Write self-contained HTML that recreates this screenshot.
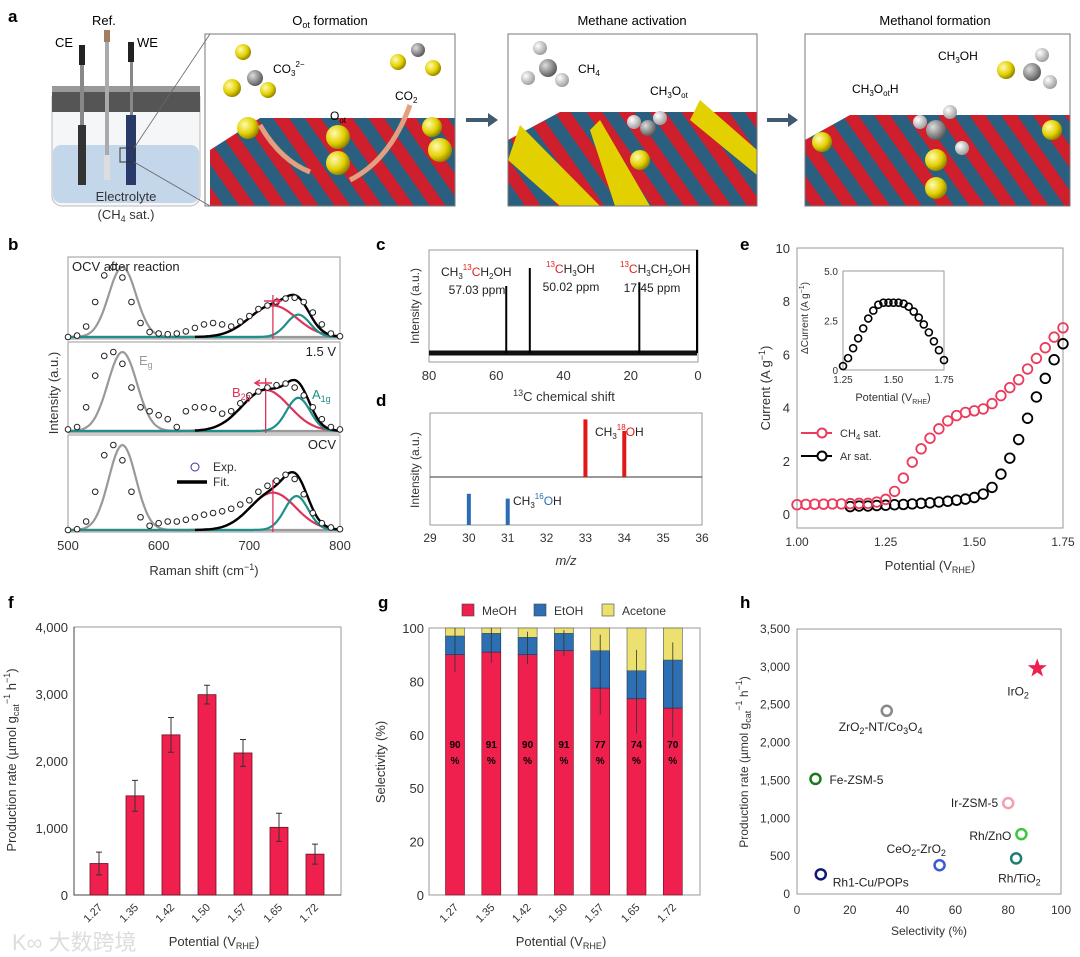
<!DOCTYPE html>
<html><head><meta charset="utf-8">
<style>
html,body{margin:0;padding:0;background:#fff;}
svg{display:block;font-family:"Liberation Sans","Noto Sans CJK SC",sans-serif;}
</style></head>
<body>
<svg id="fig" width="1080" height="957" viewBox="0 0 1080 957" xmlns="http://www.w3.org/2000/svg">
<defs>
<pattern id="stripes" width="26" height="26" patternUnits="userSpaceOnUse" patternTransform="rotate(-35)">
<rect width="26" height="26" fill="#2a5f80"/><rect width="13" height="26" fill="#cf1e2c"/>
</pattern>
<radialGradient id="yb" cx="0.35" cy="0.35" r="0.7"><stop offset="0" stop-color="#fffbb0"/><stop offset="0.6" stop-color="#e3d000"/><stop offset="1" stop-color="#8a7d00"/></radialGradient>
<radialGradient id="gb" cx="0.35" cy="0.35" r="0.7"><stop offset="0" stop-color="#ddd"/><stop offset="1" stop-color="#555"/></radialGradient>
<radialGradient id="wb" cx="0.35" cy="0.35" r="0.7"><stop offset="0" stop-color="#fff"/><stop offset="1" stop-color="#999"/></radialGradient>
<clipPath id="c1"><rect x="210" y="34" width="245" height="172"/></clipPath>
<clipPath id="c2"><rect x="508" y="34" width="249" height="172"/></clipPath>
<clipPath id="c3"><rect x="805" y="34" width="265" height="172"/></clipPath>
</defs>

<!-- Panel a -->
<g>
<text x="8" y="22" font-size="17" font-weight="bold">a</text>
<g>
<rect x="52" y="88" width="148" height="118" rx="10" fill="#f4f6f8" stroke="#bbb"/>
<rect x="53" y="145" width="146" height="58" rx="8" fill="#c4d6ea"/>
<rect x="52" y="86" width="148" height="26" fill="#555"/>
<rect x="52" y="86" width="148" height="6" fill="#999"/>
<rect x="79" y="45" width="6" height="20" fill="#222"/><rect x="80" y="65" width="4" height="120" fill="#888"/><rect x="78" y="125" width="8" height="60" fill="#333"/>
<rect x="104" y="30" width="6" height="12" fill="#a08060"/><rect x="105" y="42" width="4" height="138" fill="#aaa"/><rect x="104" y="155" width="6" height="25" fill="#ddd"/>
<rect x="128" y="42" width="6" height="20" fill="#222"/><rect x="130" y="62" width="3" height="55" fill="#888"/><rect x="126" y="115" width="10" height="70" fill="#283a6a"/>
<rect x="120" y="148" width="14" height="14" fill="none" stroke="#333"/>
<line x1="134" y1="148" x2="210" y2="34" stroke="#666" stroke-width="0.8"/><line x1="134" y1="162" x2="210" y2="206" stroke="#666" stroke-width="0.8"/>
<text x="55" y="47" font-size="13">CE</text>
<text x="92" y="25" font-size="13">Ref.</text>
<text x="137" y="47" font-size="13">WE</text>
<text x="126" y="201" font-size="13" text-anchor="middle" fill="#333">Electrolyte</text>
<text x="126" y="219" font-size="13" text-anchor="middle" fill="#333">(CH<tspan font-size="9" dy="3">4</tspan><tspan dy="-3"> sat.)</tspan></text>
</g>
<g>
<text x="330" y="25" font-size="13" text-anchor="middle">O<tspan font-size="9" dy="3">ot</tspan><tspan dy="-3">  formation</tspan></text>
<g clip-path="url(#c1)"><rect x="210" y="34" width="245" height="172" fill="#fff"/>
<path d="M210 150 L260 118 L455 118 L455 206 L210 206Z" fill="url(#stripes)"/>
<circle cx="248" cy="128" r="11" fill="url(#yb)"/><circle cx="338" cy="137" r="12" fill="url(#yb)"/><circle cx="338" cy="163" r="12" fill="url(#yb)"/><circle cx="432" cy="127" r="10" fill="url(#yb)"/><circle cx="440" cy="150" r="12" fill="url(#yb)"/>
<circle cx="255" cy="78" r="8" fill="url(#gb)"/><circle cx="243" cy="52" r="8" fill="url(#yb)"/><circle cx="232" cy="88" r="9" fill="url(#yb)"/><circle cx="268" cy="90" r="8" fill="url(#yb)"/>
<circle cx="418" cy="50" r="7" fill="url(#gb)"/><circle cx="398" cy="62" r="8" fill="url(#yb)"/><circle cx="433" cy="68" r="8" fill="url(#yb)"/>
<path d="M260 125 Q280 160 310 172" stroke="#e2a080" stroke-width="5" fill="none"/><path d="M350 180 Q390 160 410 105" stroke="#e2a080" stroke-width="5" fill="none"/>
</g>
<rect x="205" y="34" width="250" height="172" fill="none" stroke="#777"/>
<text x="273" y="73" font-size="12">CO<tspan font-size="8" dy="3">3</tspan><tspan font-size="8" dy="-9">2−</tspan></text>
<text x="330" y="120" font-size="12">O<tspan font-size="8" dy="3">ot</tspan></text>
<text x="395" y="100" font-size="12">CO<tspan font-size="8" dy="3">2</tspan></text>
</g>
<path d="M466 120 L490 120" stroke="#405a70" stroke-width="4"/><path d="M488 113 L498 120 L488 127Z" fill="#405a70"/>
<g>
<text x="632" y="25" font-size="13" text-anchor="middle">Methane activation</text>
<g clip-path="url(#c2)"><rect x="508" y="34" width="249" height="172" fill="#fff"/>
<path d="M508 140 L560 112 L757 112 L757 206 L508 206Z" fill="url(#stripes)"/>
<path d="M520 125 L600 206 L560 206 L508 160Z" fill="#e3d000"/><path d="M600 120 L650 206 L615 206 L590 130Z" fill="#e3d000"/><path d="M700 100 L757 150 L757 175 L690 120Z" fill="#e3d000"/>
<circle cx="548" cy="68" r="9" fill="url(#gb)"/><circle cx="540" cy="48" r="7" fill="url(#wb)"/><circle cx="528" cy="78" r="7" fill="url(#wb)"/><circle cx="562" cy="80" r="7" fill="url(#wb)"/>
<circle cx="648" cy="128" r="8" fill="url(#gb)"/><circle cx="634" cy="122" r="7" fill="url(#wb)"/><circle cx="660" cy="118" r="7" fill="url(#wb)"/><circle cx="640" cy="160" r="10" fill="url(#yb)"/>
</g>
<rect x="508" y="34" width="249" height="172" fill="none" stroke="#777"/>
<text x="578" y="73" font-size="12">CH<tspan font-size="8" dy="3">4</tspan></text>
<text x="650" y="95" font-size="12">CH<tspan font-size="8" dy="3">3</tspan><tspan dy="-3">O</tspan><tspan font-size="8" dy="3">ot</tspan></text>
</g>
<path d="M767 120 L790 120" stroke="#405a70" stroke-width="4"/><path d="M788 113 L798 120 L788 127Z" fill="#405a70"/>
<g>
<text x="935" y="25" font-size="13" text-anchor="middle">Methanol formation</text>
<g clip-path="url(#c3)"><rect x="805" y="34" width="265" height="172" fill="#fff"/>
<path d="M805 140 L850 115 L1070 115 L1070 206 L805 206Z" fill="url(#stripes)"/>
<circle cx="822" cy="142" r="10" fill="url(#yb)"/><circle cx="936" cy="160" r="11" fill="url(#yb)"/><circle cx="936" cy="188" r="11" fill="url(#yb)"/><circle cx="1052" cy="130" r="10" fill="url(#yb)"/>
<circle cx="936" cy="130" r="10" fill="url(#gb)"/><circle cx="920" cy="122" r="7" fill="url(#wb)"/><circle cx="950" cy="112" r="7" fill="url(#wb)"/><circle cx="962" cy="148" r="7" fill="url(#wb)"/>
<circle cx="1032" cy="72" r="9" fill="url(#gb)"/><circle cx="1006" cy="70" r="9" fill="url(#yb)"/><circle cx="1042" cy="55" r="7" fill="url(#wb)"/><circle cx="1050" cy="82" r="7" fill="url(#wb)"/>
</g>
<rect x="805" y="34" width="265" height="172" fill="none" stroke="#777"/>
<text x="938" y="60" font-size="12">CH<tspan font-size="8" dy="3">3</tspan><tspan dy="-3">OH</tspan></text>
<text x="852" y="93" font-size="12">CH<tspan font-size="8" dy="3">3</tspan><tspan dy="-3">O</tspan><tspan font-size="8" dy="3">ot</tspan><tspan dy="-3">H</tspan></text>
</g>
</g>

<text x="8" y="250" font-size="17" font-weight="bold">b</text>
<text x="376" y="250" font-size="17" font-weight="bold">c</text>
<text x="376" y="406" font-size="17" font-weight="bold">d</text>
<text x="740" y="250" font-size="17" font-weight="bold">e</text>
<text x="8" y="608" font-size="17" font-weight="bold">f</text>
<text x="378" y="608" font-size="17" font-weight="bold">g</text>
<text x="740" y="608" font-size="17" font-weight="bold">h</text>
<g id="charts"></g>
<text x="12" y="950" font-size="22" fill="#ddd">K∞ 大数跨境</text>
</svg>

<script>
const ramanShift = [500,510,520,530,540,550,560,570,580,590,600,610,620,630,640,650,660,670,680,690,700,710,720,730,740,750,760,770,780,790,800];
const ramanTop = [0,0.02,0.15,0.5,0.88,1.0,0.85,0.5,0.2,0.07,0.05,0.04,0.05,0.08,0.13,0.18,0.2,0.18,0.15,0.22,0.3,0.4,0.45,0.5,0.55,0.56,0.5,0.35,0.18,0.05,0.01];
const ramanMid = [0.02,0.05,0.3,0.7,0.95,1.0,0.85,0.55,0.3,0.25,0.2,0.15,0.05,0.25,0.3,0.3,0.28,0.22,0.25,0.35,0.45,0.5,0.55,0.58,0.6,0.55,0.45,0.3,0.15,0.05,0.02];
const ramanBot = [0,0.01,0.1,0.45,0.88,1.0,0.82,0.45,0.15,0.05,0.08,0.1,0.1,0.12,0.15,0.18,0.2,0.22,0.25,0.3,0.35,0.45,0.52,0.58,0.65,0.6,0.42,0.2,0.08,0.03,0.01];
const egCenter = [560,560,560], egAmp=[1.0,1.0,1.0], egWidth=[15,16,15];
const b2gCenter = [726,718,726], b2gAmp=[0.45,0.52,0.44], b2gWidth=[26,26,25];
const a1gCenter = [754,754,752], a1gAmp=[0.32,0.42,0.4], a1gWidth=[13,13,13];
const ramanLabels = ['OCV after reaction','1.5 V','OCV'];
const ramanTicks = [500,600,700,800];
const nmrShift = [57.03,50.02,17.45];
const nmrHeight = [0.52,0.66,0.55];
const nmrTicks = [80,60,40,20,0];
const msMz18 = [33,34], msInt18 = [0.9,0.72];
const msMz16 = [30,31], msInt16 = [0.65,0.55];
const msTicks = [29,30,31,32,33,34,35,36];
const potE = [1.0,1.025,1.05,1.075,1.1,1.125,1.15,1.175,1.2,1.225,1.25,1.275,1.3,1.325,1.35,1.375,1.4,1.425,1.45,1.475,1.5,1.525,1.55,1.575,1.6,1.625,1.65,1.675,1.7,1.725,1.75];
const currCH4 = [0.35,0.36,0.37,0.37,0.38,0.38,0.39,0.4,0.4,0.45,0.55,0.85,1.35,1.95,2.45,2.85,3.2,3.5,3.7,3.82,3.88,3.95,4.15,4.45,4.75,5.05,5.45,5.85,6.25,6.65,7.0];
const currAr = [null,null,null,null,null,null,0.28,0.3,0.3,0.32,0.33,0.35,0.36,0.38,0.4,0.42,0.45,0.48,0.52,0.56,0.62,0.75,1.0,1.5,2.1,2.8,3.6,4.4,5.1,5.8,6.4];
const eTicksX = [1.0,1.25,1.5,1.75], eTicksY=[0,2,4,6,8,10];
const potInset = [1.25,1.275,1.3,1.325,1.35,1.375,1.4,1.425,1.45,1.475,1.5,1.525,1.55,1.575,1.6,1.625,1.65,1.675,1.7,1.725,1.75];
const deltaCurr = [0.2,0.6,1.1,1.6,2.1,2.6,3.0,3.3,3.4,3.4,3.4,3.4,3.35,3.2,2.95,2.65,2.3,1.9,1.45,1.0,0.5];
const potCats = ['1.27','1.35','1.42','1.50','1.57','1.65','1.72'];
const rateVals = [470,1480,2390,2990,2120,1010,610];
const rateErr = [170,230,260,140,200,210,150];
const fTicks = [0,1000,2000,3000,4000];
const fTickLabels = ['0','1,000','2,000','3,000','4,000'];
const selMeOH = [90,91,90,91.5,77.5,73.5,70];
const selEtOH = [7,7,6.5,6.5,14,10.5,18];
const selAcetone = [3,2,3.5,2,8.5,16,12];
const errMeOH = [6.5,4,3.5,2,10,13,11];
const pctLabels = ['90','91','90','91','77','74','70'];
const gTicks = [0,20,40,60,80,100];
const gTickLabels = ['0','20','50','60','80','100'];
const catNames = ['IrO2','ZrO2-NT/Co3O4','Fe-ZSM-5','Ir-ZSM-5','Rh/ZnO','Rh/TiO2','CeO2-ZrO2','Rh1-Cu/POPs'];
const catSel = [91,34,7,80,85,83,54,9];
const catRate = [2980,2420,1520,1200,790,470,380,260];
const hTicksX=[0,20,40,60,80,100];
const hTicksY=[0,500,1000,1500,2000,2500,3000,3500];
const hTickLabelsY=['0','500','1,000','1,500','2,000','2,500','3,000','3,500'];

const NS='http://www.w3.org/2000/svg';
const root=document.getElementById('charts');
function mk(tag,attrs,parent){const e=document.createElementNS(NS,tag);for(const k in attrs)e.setAttribute(k,attrs[k]);(parent||root).appendChild(e);return e;}
function lin(d0,d1,r0,r1){return v=>r0+(v-d0)/(d1-d0)*(r1-r0);}
function txt(x,y,s,attrs,parent){const t=mk('text',Object.assign({x:x,y:y,'font-size':12,fill:'#333'},attrs||{}),parent);t.innerHTML=s;return t;}
function gauss(x,c,a,w){return a*Math.exp(-0.5*((x-c)/w)**2);}

// panel b
{
const gB=mk('g',{});


const xs=lin(500,800,68,340);
const boxes=[[257,339],[342,433],[435,532]];
const exps=[ramanTop,ramanMid,ramanBot];
boxes.forEach((bx,k)=>{
 const top=bx[0],bot=bx[1];
 const ys=v=>bot-2-v*(bot-top-12);
 const fr=mk('rect',{x:68,y:top,width:272,height:bot-top,fill:'none',stroke:'#999'},gB);
 
 
 const comps=[[egCenter,egAmp,egWidth,'#999'],[b2gCenter,b2gAmp,b2gWidth,'#e0335a'],[a1gCenter,a1gAmp,a1gWidth,'#1f8f8a']];
 comps.forEach(c=>{
  let d='';
  for(let x=500;x<=800;x+=2){d+=(x===500?'M':'L')+xs(x).toFixed(1)+' '+ys(gauss(x,c[0][k],c[1][k],c[2][k])).toFixed(1);}
  const p=mk('path',{d:d,fill:'none',stroke:c[3],'stroke-width':2.2},gB);
  
  
 });
 let d='';
 for(let x=640;x<=800;x+=2){const v=gauss(x,b2gCenter[k],b2gAmp[k],b2gWidth[k])+gauss(x,a1gCenter[k],a1gAmp[k],a1gWidth[k]);d+=(x===640?'M':'L')+xs(x).toFixed(1)+' '+ys(v).toFixed(1);}
 const fp=mk('path',{d:d,fill:'none',stroke:'#000','stroke-width':2.4},gB);
 
 
 const vl=mk('line',{x1:xs(b2gCenter[k]),x2:xs(b2gCenter[k]),y1:ys(b2gAmp[k]+0.15),y2:bot,stroke:'#e0335a','stroke-width':1.3},gB);
 
 
 exps[k].forEach((v,i)=>{
  const c=mk('circle',{cx:xs(ramanShift[i]),cy:ys(v),r:2.8,fill:'#fff',stroke:'#222','stroke-width':1},gB);
  
  
 });
 const lb=txt(k===0?72:336,top+14,ramanLabels[k],{'font-size':13,'text-anchor':k===0?'start':'end',fill:'#222'},gB);
 
 
});
const a1=mk('path',{d:'M264 301 L280 301 M276 298 L281 301 L276 304',stroke:'#e0335a','stroke-width':1.5,fill:'none'},gB);


const a2=mk('path',{d:'M256 383 L272 383 M260 380 L255 383 L260 386',stroke:'#e0335a','stroke-width':1.5,fill:'none'},gB);


const t1=txt(139,365,'E<tspan font-size="9" dy="3">g</tspan>',{fill:'#999','font-size':13},gB);


const t2=txt(232,397,'B<tspan font-size="9" dy="3">2g</tspan>',{fill:'#e0335a','font-size':13},gB);


const t3=txt(312,399,'A<tspan font-size="9" dy="3">1g</tspan>',{fill:'#1f8f8a','font-size':13},gB);


const lc=mk('circle',{cx:195,cy:467,r:4,fill:'#fff',stroke:'#33a'},gB);


const lt1=txt(213,471,'Exp.',{'font-size':12},gB);


const ll=mk('line',{x1:177,x2:207,y1:482,y2:482,stroke:'#000','stroke-width':3.5},gB);


const lt2=txt(213,486,'Fit.',{'font-size':12},gB);


ramanTicks.forEach(v=>{
 const t=txt(xs(v),550,v,{'text-anchor':'middle','font-size':13},gB);
 
 
});
const xt=txt(204,575,'Raman shift (cm<tspan font-size="9" dy="-5">−1</tspan><tspan dy="5">)</tspan>',{'text-anchor':'middle','font-size':13},gB);


const yt=txt(0,0,'Intensity (a.u.)',{'text-anchor':'middle','font-size':13,transform:'translate(58,393) rotate(-90)'},gB);


}

// panel c
{
const g=mk('g',{});


const xs=lin(80,0,429,698);
const base=353, ys=v=>base-v*(base-250)/0.8;
const fr=mk('rect',{x:429,y:250,width:269,height:112,fill:'none',stroke:'#999'},g);


const noise=mk('rect',{x:429,y:base-2.5,width:268,height:5,fill:'#111'},g);


nmrShift.forEach((s,i)=>{
 const l=mk('line',{x1:xs(s),x2:xs(s),y1:base,y2:ys(nmrHeight[i]),stroke:'#000','stroke-width':2},g);
 
 
});
const edge=mk('line',{x1:697,x2:697,y1:250,y2:base,stroke:'#000','stroke-width':2},g);


const R='#e02020';
const l1=txt(441,276,'CH<tspan font-size="8" dy="3">3</tspan><tspan font-size="8" dy="-9" fill="'+R+'">13</tspan><tspan dy="6" fill="'+R+'">C</tspan>H<tspan font-size="8" dy="3">2</tspan><tspan dy="-3">OH</tspan>',{'font-size':12,fill:'#222'},g);


const l1b=txt(477,294,'57.03 ppm',{'font-size':12,'text-anchor':'middle',fill:'#222'},g);


const l2=txt(546,273,'<tspan font-size="8" dy="-6" fill="'+R+'">13</tspan><tspan dy="6" fill="'+R+'">C</tspan>H<tspan font-size="8" dy="3">3</tspan><tspan dy="-3">OH</tspan>',{'font-size':12,fill:'#222'},g);


const l2b=txt(571,291,'50.02 ppm',{'font-size':12,'text-anchor':'middle',fill:'#222'},g);


const l3=txt(620,273,'<tspan font-size="8" dy="-6" fill="'+R+'">13</tspan><tspan dy="6" fill="'+R+'">C</tspan>H<tspan font-size="8" dy="3">3</tspan><tspan dy="-3">CH</tspan><tspan font-size="8" dy="3">2</tspan><tspan dy="-3">OH</tspan>',{'font-size':12,fill:'#222'},g);


const l3b=txt(652,292,'17.45 ppm',{'font-size':12,'text-anchor':'middle',fill:'#222'},g);


nmrTicks.forEach(v=>{
 const t=txt(xs(v),380,v,{'text-anchor':'middle','font-size':13},g);
 
 
});
const xt=txt(564,401,'<tspan font-size="9" dy="-5">13</tspan><tspan dy="5">C chemical shift</tspan>',{'text-anchor':'middle','font-size':13},g);


const yt=txt(0,0,'Intensity (a.u.)',{'text-anchor':'middle','font-size':12,transform:'translate(419,306) rotate(-90)'},g);


}

// panel d
{
const g=mk('g',{});


const xs=lin(29,36,430,702);
const mid=477, top=413, bot=525;
const fr=mk('rect',{x:430,y:top,width:272,height:bot-top,fill:'none',stroke:'#999'},g);


const ml=mk('line',{x1:430,x2:702,y1:mid,y2:mid,stroke:'#333'},g);


msMz18.forEach((m,i)=>{
 const h=msInt18[i]*(mid-top);
 const r=mk('rect',{x:xs(m)-2,y:mid-h,width:4,height:h,fill:'#e01818'},g);
 
 
});
msMz16.forEach((m,i)=>{
 const h=msInt16[i]*(bot-mid);
 const r=mk('rect',{x:xs(m)-2,y:bot-h,width:4,height:h,fill:'#2a6db5'},g);
 
 
});
const a=txt(595,436,'CH<tspan font-size="8" dy="3">3</tspan><tspan font-size="8" dy="-9" fill="#e01818">18</tspan><tspan dy="6" fill="#e01818">O</tspan>H',{'font-size':12,fill:'#222'},g);


const b=txt(513,505,'CH<tspan font-size="8" dy="3">3</tspan><tspan font-size="8" dy="-9" fill="#2a6db5">16</tspan><tspan dy="6" fill="#2a6db5">O</tspan>H',{'font-size':12,fill:'#222'},g);


msTicks.forEach(v=>{
 const t=txt(xs(v),542,v,{'text-anchor':'middle','font-size':12},g);
 
 
});
const xt=txt(566,565,'m/z',{'text-anchor':'middle','font-size':13,'font-style':'italic'},g);


const yt=txt(0,0,'Intensity (a.u.)',{'text-anchor':'middle','font-size':12,transform:'translate(419,470) rotate(-90)'},g);


}

// panel e
{
const g=mk('g',{});


const xs=lin(1.0,1.75,797,1063), ys=lin(0,10,514,248);
const fr=mk('rect',{x:797,y:248,width:266,height:280,fill:'none',stroke:'#999'},g);


currAr.forEach((v,i)=>{ if(v===null)return;
 const c=mk('circle',{cx:xs(potE[i]),cy:ys(v),r:4.8,fill:'none',stroke:'#000','stroke-width':1.8},g);
 
 
});
currCH4.forEach((v,i)=>{
 const c=mk('circle',{cx:xs(potE[i]),cy:ys(v),r:4.8,fill:'none',stroke:'#ec3a5c','stroke-width':1.8},g);
 
 
});
eTicksY.forEach(v=>{
 const t=txt(790,ys(v)+5,v,{'text-anchor':'end','font-size':13},g);
 
 
});
eTicksX.forEach(v=>{
 const t=txt(xs(v),546,v.toFixed(2),{'text-anchor':'middle','font-size':12},g);
 
 
});
const xt=txt(930,570,'Potential (V<tspan font-size="9" dy="3">RHE</tspan><tspan dy="-3">)</tspan>',{'text-anchor':'middle','font-size':13},g);


const yt=txt(0,0,'Current (A g<tspan font-size="9" dy="-5">−1</tspan><tspan dy="5">)</tspan>',{'text-anchor':'middle','font-size':13,transform:'translate(770,388) rotate(-90)'},g);


const lg1=mk('line',{x1:801,x2:832,y1:433,y2:433,stroke:'#ec3a5c','stroke-width':2},g);


const lc1=mk('circle',{cx:822,cy:433,r:4.5,fill:'#fff',stroke:'#ec3a5c','stroke-width':2},g);


const lt1=txt(840,437,'CH<tspan font-size="8" dy="3">4</tspan><tspan dy="-3"> sat.</tspan>',{'font-size':11},g);


const lg2=mk('line',{x1:801,x2:832,y1:456,y2:456,stroke:'#000','stroke-width':2},g);


const lc2=mk('circle',{cx:822,cy:456,r:4.5,fill:'#fff',stroke:'#000','stroke-width':2},g);


const lt2=txt(840,460,'Ar sat.',{'font-size':11},g);


const ix=lin(1.25,1.75,843,944), iy=lin(0,5,370,271);
const ifr=mk('rect',{x:843,y:271,width:101,height:99,fill:'#fff',stroke:'#999'},g);


deltaCurr.forEach((v,i)=>{
 const c=mk('circle',{cx:ix(potInset[i]),cy:iy(v),r:3.5,fill:'none',stroke:'#000','stroke-width':1.6},g);
 
 
});
[[0,'0'],[2.5,'2.5'],[5,'5.0']].forEach(p=>{
 const t=txt(838,iy(p[0])+4,p[1],{'text-anchor':'end','font-size':10},g);
 
 
});
[1.25,1.5,1.75].forEach(v=>{
 const t=txt(ix(v),383,v.toFixed(2),{'text-anchor':'middle','font-size':10},g);
 
 
});
const ixt=txt(893,401,'Potential (V<tspan font-size="7" dy="3">RHE</tspan><tspan dy="-3">)</tspan>',{'text-anchor':'middle','font-size':11},g);


const iyt=txt(0,0,'ΔCurrent (A g<tspan font-size="7" dy="-4">−1</tspan><tspan dy="4">)</tspan>',{'text-anchor':'middle','font-size':10,transform:'translate(808,318) rotate(-90)'},g);


}

// panel f
{
const g=mk('g',{});


const x0=74,x1=341, ys=lin(0,4000,895,627);
const cx=i=>x0+25+i*36;
const fr=mk('rect',{x:x0,y:627,width:x1-x0,height:268,fill:'none',stroke:'#999'},g);


const ax=mk('path',{d:`M${x0} 627 L${x0} 895 L${x1} 895`,fill:'none',stroke:'#444'},g);


rateVals.forEach((v,i)=>{
 const r=mk('rect',{x:cx(i)-9,y:ys(v),width:18,height:895-ys(v),fill:'#f0204e',stroke:'#6a1020','stroke-width':0.8},g);
 
 
 const e=mk('path',{d:`M${cx(i)} ${ys(v-rateErr[i])} L${cx(i)} ${ys(v+rateErr[i])} M${cx(i)-3} ${ys(v-rateErr[i])} L${cx(i)+3} ${ys(v-rateErr[i])} M${cx(i)-3} ${ys(v+rateErr[i])} L${cx(i)+3} ${ys(v+rateErr[i])}`,stroke:'#333','stroke-width':1,fill:'none'},g);
 
 
 const t=txt(0,0,potCats[i],{'text-anchor':'end','font-size':11,transform:`translate(${cx(i)+4},${908}) rotate(-45)`},g);
 
 
});
fTicks.forEach((v,i)=>{
 const t=txt(68,ys(v)+5,fTickLabels[i],{'text-anchor':'end','font-size':13},g);
 
 
});
const xt=txt(214,946,'Potential (V<tspan font-size="9" dy="3">RHE</tspan><tspan dy="-3">)</tspan>',{'text-anchor':'middle','font-size':13},g);


const yt=txt(0,0,'Production rate (µmol g<tspan font-size="9" dy="3">cat</tspan><tspan font-size="9" dy="-9">−1</tspan><tspan dy="6"> h</tspan><tspan font-size="9" dy="-6">−1</tspan><tspan dy="6">)</tspan>',{'text-anchor':'middle','font-size':13,transform:'translate(16,760) rotate(-90)'},g);


}

// panel g
{
const g=mk('g',{});


const x0=429,x1=700, ys=lin(0,100,895,628);
const cx=i=>x0+26+i*36.3;
const fr=mk('rect',{x:x0,y:628,width:x1-x0,height:267,fill:'none',stroke:'#999'},g);


selMeOH.forEach((m,i)=>{
 const e=selEtOH[i], a=selAcetone[i];
 const r1=mk('rect',{x:cx(i)-9.5,y:ys(m),width:19,height:895-ys(m),fill:'#f0204e',stroke:'#6a1020','stroke-width':0.6},g);
 
 
 const r2=mk('rect',{x:cx(i)-9.5,y:ys(m+e),width:19,height:ys(m)-ys(m+e),fill:'#2d6fb3',stroke:'#1a3050','stroke-width':0.6},g);
 
 
 const r3=mk('rect',{x:cx(i)-9.5,y:ys(m+e+a),width:19,height:ys(m+e)-ys(m+e+a),fill:'#ece070',stroke:'#555','stroke-width':0.6},g);
 
 
 const er=mk('line',{x1:cx(i),x2:cx(i),y1:ys(m-errMeOH[i]),y2:ys(Math.min(100,m+e+errMeOH[i]*0.6)),stroke:'#333','stroke-width':0.8},g);
 
 
 const t1=txt(cx(i),ys(55),pctLabels[i],{'text-anchor':'middle','font-size':10,'font-weight':'bold',fill:'#000'},g);
 
 
 const t2=txt(cx(i),ys(49),'%',{'text-anchor':'middle','font-size':10,'font-weight':'bold',fill:'#000'},g);
 
 
 const t=txt(0,0,potCats[i],{'text-anchor':'end','font-size':11,transform:`translate(${cx(i)+4},${908}) rotate(-45)`},g);
 
 
});
gTicks.forEach((v,i)=>{
 const t=txt(424,ys(v)+5,gTickLabels[i],{'text-anchor':'end','font-size':13},g);
 
 
});
const leg=[['#f0204e','MeOH',462],['#2d6fb3','EtOH',534],['#ece070','Acetone',602]];
leg.forEach(l=>{
 const r=mk('rect',{x:l[2],y:604,width:12,height:12,fill:l[0],stroke:'#444','stroke-width':0.6},g);
 
 
 const t=txt(l[2]+20,615,l[1],{'font-size':12},g);
 
 
});
const xt=txt(561,946,'Potential (V<tspan font-size="9" dy="3">RHE</tspan><tspan dy="-3">)</tspan>',{'text-anchor':'middle','font-size':13},g);


const yt=txt(0,0,'Selectivity (%)',{'text-anchor':'middle','font-size':13,transform:'translate(385,762) rotate(-90)'},g);


}

// panel h
{
const g=mk('g',{});


const xs=lin(0,100,797,1061), ys=lin(0,3500,894,629);
const fr=mk('rect',{x:797,y:629,width:264,height:265,fill:'none',stroke:'#999'},g);


const colors=['#f0204e','#888','#1a7a1a','#f0a0b0','#3cc83c','#1a7f74','#3a5ad8','#101a70'];
const labels=['IrO<tspan font-size="9" dy="3">2</tspan>','ZrO<tspan font-size="9" dy="3">2</tspan><tspan dy="-3">-NT/Co</tspan><tspan font-size="9" dy="3">3</tspan><tspan dy="-3">O</tspan><tspan font-size="9" dy="3">4</tspan>','Fe-ZSM-5','Ir-ZSM-5','Rh/ZnO','Rh/TiO<tspan font-size="9" dy="3">2</tspan>','CeO<tspan font-size="9" dy="3">2</tspan><tspan dy="-3">-ZrO</tspan><tspan font-size="9" dy="3">2</tspan>','Rh1-Cu/POPs'];
const off=[[-30,27,'start'],[-48,20,'start'],[14,5,'start'],[-10,4,'end'],[-10,6,'end'],[-18,24,'start'],[-53,-12,'start'],[12,12,'start']];
catSel.forEach((s,i)=>{
 const x=xs(s), y=ys(catRate[i]);
 let m;
 if(i===0){
  let d='';for(let k=0;k<10;k++){const r=k%2?4:10, a=-Math.PI/2+k*Math.PI/5;d+=(k?'L':'M')+(x+r*Math.cos(a)).toFixed(1)+' '+(y+r*Math.sin(a)).toFixed(1);}
  m=mk('path',{d:d+'Z',fill:colors[i]},g);
 } else {
  m=mk('circle',{cx:x,cy:y,r:5,fill:'#fff',stroke:colors[i],'stroke-width':2.5},g);
 }
 
 
 const t=txt(x+off[i][0],y+off[i][1],labels[i],{'font-size':12,'text-anchor':off[i][2],fill:'#222'},g);
 
 
});
hTicksX.forEach(v=>{
 const t=txt(xs(v),914,v,{'text-anchor':'middle','font-size':12},g);
 
 
});
hTicksY.forEach((v,i)=>{
 const t=txt(790,ys(v)+4,hTickLabelsY[i],{'text-anchor':'end','font-size':12},g);
 
 
});
const xt=txt(929,935,'Selectivity (%)',{'text-anchor':'middle','font-size':12},g);


const yt=txt(0,0,'Production rate (µmol g<tspan font-size="9" dy="3">cat</tspan><tspan font-size="9" dy="-9">−1</tspan><tspan dy="6"> h</tspan><tspan font-size="9" dy="-6">−1</tspan><tspan dy="6">)</tspan>',{'text-anchor':'middle','font-size':12,transform:'translate(748,762) rotate(-90)'},g);


}
</script>
</body></html>
